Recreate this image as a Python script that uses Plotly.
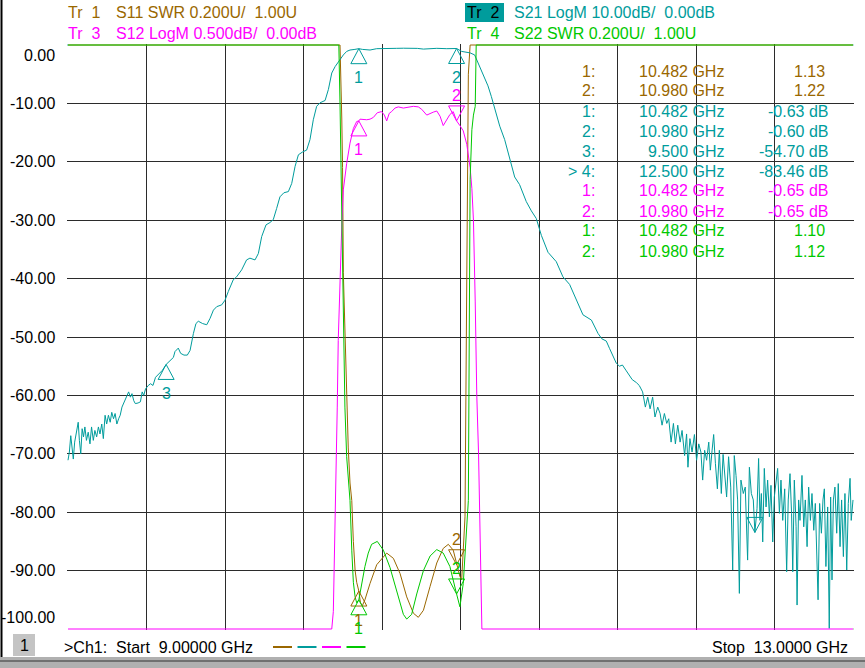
import numpy as np
import plotly.graph_objects as go

# ---- trace data ----
# Tr 2: S21 LogM (dB)
s21_freq = [
    9.000, 9.007, 9.014, 9.021, 9.027, 9.034, 9.043, 9.052, 9.058, 9.065, 9.072, 9.079,
    9.086, 9.094, 9.103, 9.112, 9.120, 9.129, 9.137, 9.146, 9.155, 9.163, 9.172, 9.180,
    9.189, 9.197, 9.206, 9.215, 9.223, 9.232, 9.240, 9.249, 9.258, 9.266, 9.275, 9.283,
    9.292, 9.300, 9.309, 9.318, 9.326, 9.335, 9.343, 9.357, 9.369, 9.378, 9.386, 9.395,
    9.409, 9.421, 9.433, 9.446, 9.464, 9.481, 9.500, 9.520, 9.537, 9.545, 9.562, 9.574,
    9.591, 9.608, 9.622, 9.639, 9.652, 9.664, 9.686, 9.707, 9.724, 9.741, 9.758, 9.783,
    9.800, 9.817, 9.842, 9.859, 9.885, 9.910, 9.927, 9.953, 9.970, 9.987, 10.009, 10.029,
    10.046, 10.063, 10.080, 10.100, 10.123, 10.140, 10.157, 10.174, 10.196, 10.216, 10.233,
    10.250, 10.267, 10.284, 10.310, 10.327, 10.344, 10.361, 10.386, 10.403, 10.420, 10.437,
    10.462, 10.482, 10.500, 10.539, 10.573, 10.607, 10.640, 10.675, 10.710, 10.743, 10.780,
    10.811, 10.845, 10.879, 10.930, 10.980, 11.006, 11.030, 11.049, 11.072, 11.089, 11.106,
    11.123, 11.140, 11.157, 11.180, 11.200, 11.225, 11.251, 11.276, 11.301, 11.335, 11.361,
    11.386, 11.412, 11.446, 11.488, 11.522, 11.556, 11.590, 11.624, 11.667, 11.701, 11.720,
    11.743, 11.760, 11.775, 11.794, 11.810, 11.825, 11.845, 11.860, 11.875, 11.896,
    11.911, 11.928, 11.942, 11.954, 11.966, 11.979, 11.991, 12.005, 12.017, 12.027, 12.039,
    12.051, 12.061, 12.073, 12.085, 12.095, 12.107, 12.119, 12.129, 12.142, 12.152, 12.159,
    12.169, 12.180, 12.192, 12.203, 12.214, 12.225, 12.234, 12.244, 12.254, 12.265, 12.273,
    12.282, 12.290, 12.299, 12.309, 12.319, 12.329, 12.338, 12.346, 12.356, 12.366, 12.377,
    12.387, 12.395, 12.404, 12.412, 12.421, 12.429, 12.441, 12.451, 12.463, 12.472, 12.482,
    12.492, 12.500, 12.511, 12.519, 12.526, 12.533, 12.540, 12.548, 12.557, 12.565, 12.574,
    12.582, 12.591, 12.599, 12.608, 12.616, 12.625, 12.633, 12.642, 12.652, 12.662, 12.670,
    12.679, 12.687, 12.693, 12.701, 12.710, 12.715, 12.723, 12.730, 12.740, 12.749, 12.757,
    12.766, 12.774, 12.783, 12.791, 12.800, 12.808, 12.817, 12.822, 12.830, 12.839, 12.847,
    12.854, 12.862, 12.871, 12.879, 12.886, 12.893, 12.900, 12.908, 12.917, 12.925, 12.934,
    12.942, 12.951, 12.959, 12.968, 12.976, 12.985, 12.991, 13.000,
]
s21_db = [
    -71.1, -69.7, -66.9, -69.4, -70.9, -68.0, -66.0, -64.6, -67.7, -70.0, -65.7, -67.1,
    -65.4, -67.7, -66.3, -68.3, -65.4, -67.7, -66.0, -67.1, -65.4, -66.6, -64.9, -67.4,
    -63.4, -64.9, -63.4, -64.6, -62.9, -64.0, -63.1, -64.9, -64.0, -63.4, -62.0, -61.4,
    -60.6, -60.0, -59.4, -60.3, -59.7, -60.9, -61.4, -61.3, -61.1, -59.4, -60.0, -58.9,
    -58.3, -58.0, -58.3, -56.9, -56.3, -55.7, -54.7, -54.1, -53.5, -52.5, -51.9, -52.8,
    -53.1, -53.1, -52.3, -49.4, -47.7, -47.3, -47.7, -47.9, -46.8, -45.4, -44.8, -44.5,
    -43.7, -42.2, -40.2, -39.7, -38.5, -36.8, -36.5, -36.8, -35.7, -32.8, -30.8, -30.4,
    -29.9, -28.0, -26.0, -25.3, -25.1, -23.7, -20.8, -18.8, -18.3, -18.0, -16.2,
    -12.8, -10.5, -9.9, -9.5, -7.6, -4.8, -3.7, -2.5, -1.7, -1.1, -0.86,
    -0.75, -0.63, -0.75, -0.86, -0.63, -0.57, -0.62, -0.57, -0.55, -0.52, -0.58,
    -0.70, -0.60, -0.57, -0.63, -0.60, -1.1, -1.2, -1.35, -1.7, -3.0, -4.3,
    -5.5, -7.0, -8.8, -11.5, -13.9, -16.2, -19.7, -22.6, -23.9, -26.8, -28.4,
    -29.7, -32.6, -35.5, -37.1, -39.7, -41.0, -43.6, -46.2, -47.1, -49.4, -50.3,
    -50.7, -52.0, -53.2, -54.5, -55.0, -54.8, -55.8, -56.5, -57.3, -57.8,
    -58.3, -59.4, -62.0, -60.3, -62.3, -60.3, -63.7, -62.0, -63.1, -65.1, -63.1,
    -64.8, -64.0, -68.0, -64.8, -68.3, -65.1, -68.0, -66.0, -70.3, -66.6, -72.3,
    -67.4, -69.7, -66.7, -71.1, -68.3, -69.7, -74.5, -69.4, -71.1, -68.0, -72.8,
    -69.4, -66.7, -71.7, -76.0, -69.4, -76.8, -70.1, -74.0, -77.4, -70.5, -75.7,
    -89.9, -70.3, -73.7, -77.9, -93.9, -74.5, -76.8, -75.7, -88.2, -72.3, -76.8,
    -77.9, -83.46, -79.4, -70.8, -81.4, -76.8, -85.1, -72.5, -79.1, -74.5, -80.8,
    -75.4, -85.1, -77.4, -74.2, -72.5, -80.2, -74.5, -81.4, -76.0, -90.2, -77.9,
    -73.4, -80.2, -90.2, -74.5, -82.5, -95.9, -77.9, -81.4, -73.7, -82.5, -77.9,
    -85.9, -75.7, -81.4, -76.8, -83.1, -78.5, -88.8, -95.0, -78.5, -83.6, -77.9,
    -76.0, -89.3, -79.1, -99.9, -77.4, -91.6, -77.9, -75.7, -83.6, -75.1, -85.9,
    -77.9, -87.6, -76.8, -89.9, -78.5, -74.2, -81.4, -77.9,
]

# Tr 3: S12 LogM (dB), flat -5.00 dB where it sits on the bottom of the screen
s12_freq = [
    9.000, 10.344, 10.352, 10.360, 10.366, 10.372, 10.377, 10.386, 10.395, 10.403, 10.411,
    10.420, 10.437, 10.454, 10.471, 10.482, 10.488, 10.522, 10.539, 10.556, 10.576, 10.598,
    10.612, 10.624, 10.637, 10.649, 10.666, 10.683, 10.709, 10.734, 10.760, 10.785, 10.802,
    10.828, 10.845, 10.861, 10.879, 10.896, 10.912, 10.930, 10.946, 10.963, 10.980, 10.997,
    11.014, 11.032, 11.049, 11.058, 11.066, 11.075, 11.083, 11.092, 11.100, 11.109, 13.000,
]
s12_db = [
    -5.00, -5.00, -4.85, -4.25, -3.64, -3.10, -2.53, -1.95, -1.55, -1.24, -1.125,
    -1.015, -0.84, -0.715, -0.655, -0.65, -0.635, -0.64, -0.635, -0.62, -0.58, -0.57,
    -0.60, -0.65, -0.585, -0.57, -0.54, -0.53, -0.54, -0.53, -0.525, -0.53, -0.55,
    -0.60, -0.585, -0.575, -0.565, -0.61, -0.69, -0.64, -0.595, -0.57, -0.65, -0.69,
    -0.735, -0.85, -1.05, -1.23, -1.50, -2.20, -3.00, -3.50, -4.15, -5.00, -5.00,
]

# Tr 1: S11 SWR, 3.00 where it sits on the top of the screen
s11_freq = [
    9.000, 10.386, 10.395, 10.399, 10.403, 10.411, 10.420, 10.428, 10.437, 10.446, 10.454,
    10.463, 10.471, 10.482, 10.490, 10.500, 10.513, 10.539, 10.573, 10.624, 10.658, 10.692,
    10.726, 10.760, 10.785, 10.811, 10.845, 10.879, 10.912, 10.938, 10.963, 10.980, 10.997,
    11.006, 11.014, 11.023, 11.032, 11.040, 11.049, 13.000,
]
s11_swr = [
    3.00, 3.00, 2.75, 2.58, 2.22, 2.00, 1.76, 1.62, 1.50, 1.44, 1.30,
    1.20, 1.16, 1.13, 1.09, 1.08, 1.10, 1.156, 1.22, 1.26, 1.242, 1.19,
    1.11, 1.054, 1.04, 1.064, 1.146, 1.226, 1.276, 1.29, 1.27, 1.22, 1.18,
    1.168, 1.27, 1.384, 2.20, 2.90, 3.00, 3.00,
]

# Tr 4: S22 SWR
s22_freq = [
    9.000, 10.380, 10.386, 10.395, 10.403, 10.411, 10.420, 10.428, 10.437, 10.446, 10.454,
    10.463, 10.471, 10.482, 10.497, 10.513, 10.530, 10.547, 10.576, 10.607, 10.641, 10.675,
    10.709, 10.726, 10.751, 10.777, 10.811, 10.845, 10.879, 10.912, 10.946, 10.980, 10.997,
    11.014, 11.023, 11.032, 11.040, 11.049, 11.058, 11.066, 11.075, 11.080, 13.000,
]
s22_swr = [
    3.00, 3.00, 2.80, 2.38, 2.00, 1.76, 1.59, 1.50, 1.44, 1.27, 1.16,
    1.11, 1.09, 1.10, 1.156, 1.214, 1.26, 1.29, 1.30, 1.27, 1.21, 1.13,
    1.05, 1.034, 1.05, 1.12, 1.20, 1.25, 1.272, 1.26, 1.214, 1.12, 1.076,
    1.156, 1.27, 1.38, 1.44, 2.54, 2.71, 2.76, 2.79, 3.00, 3.00,
]

# marker readouts
s11_mk_freq = [10.482, 10.980]
s11_mk_val = [1.13, 1.22]
s21_mk_freq = [10.482, 10.980, 9.500, 12.500]
s21_mk_val = [-0.63, -0.60, -54.70, -83.46]
s12_mk_freq = [10.482, 10.980]
s12_mk_val = [-0.65, -0.65]
s22_mk_freq = [10.482, 10.980]
s22_mk_val = [1.10, 1.12]

y_tick_vals = [0, -10, -20, -30, -40, -50, -60, -70, -80, -90, -100]
y_tick_labels = ["0.00", "-10.00", "-20.00", "-30.00", "-40.00", "-50.00",
                 "-60.00", "-70.00", "-80.00", "-90.00", "-100.00"]
start_ghz, stop_ghz = 9.0, 13.0

BROWN, TEAL, MAGENTA, GREEN = "#9a6700", "#009c9c", "#ff00ff", "#00c800"
FONT = "Liberation Sans, Arial, sans-serif"


def logm_screen(db, per_div, ref=0.0):
    # reference at the top line, 10 divisions downwards
    return np.clip((np.asarray(db) - ref) / per_div * 10, -100, 0)


def swr_screen(v, per_div=0.2, ref=1.0):
    # reference at the bottom line
    return np.clip(-100 + (np.asarray(v) - ref) / per_div * 10, -100, 0)


# plot area in page pixels (one extra pixel each side so edge traces show)
PL, PR, PT, PB = 67, 854, 44, 630


def fx(x):
    return (x - PL) / (PR - PL)


def fy(y):
    return (PB - y) / (PB - PT)


fig = go.Figure()
for f, v, c in [(s11_freq, swr_screen(s11_swr), BROWN),
                (s21_freq, logm_screen(s21_db, 10.0), TEAL),
                (s12_freq, logm_screen(s12_db, 0.5), MAGENTA),
                (s22_freq, swr_screen(s22_swr), GREEN)]:
    fig.add_trace(go.Scatter(x=f, y=v, mode="lines", line=dict(color=c, width=1),
                             hoverinfo="skip", showlegend=False))

shapes = []
ann = []


def text(x, y, s, color="black", anchor="left"):
    ann.append(dict(x=fx(x), y=fy(y), xref="paper", yref="paper", text=s, showarrow=False,
                    xanchor=anchor, yanchor="middle", font=dict(color=color, size=16, family=FONT)))


# marker triangles and numbers
UP = "M0,0 L-8,-15 L8,-15 Z"
DOWN = "M0,0 L-8,15 L8,15 Z"
marker_sets = [
    (s11_mk_freq, swr_screen(s11_mk_val), BROWN, ["up", "down"], [True, True]),
    (s21_mk_freq, logm_screen(s21_mk_val, 10.0), TEAL, ["up", "up", "up", "down"], [True, True, True, False]),
    (s12_mk_freq, logm_screen(s12_mk_val, 0.5), MAGENTA, ["up", "down"], [True, True]),
    (s22_mk_freq, swr_screen(s22_mk_val), GREEN, ["up", "down"], [True, True]),
]
for freqs, vals, col, dirs, labelled in marker_sets:
    for i, (f, v) in enumerate(zip(freqs, vals)):
        shapes.append(dict(type="path", xref="x", yref="y", xsizemode="pixel", ysizemode="pixel",
                           xanchor=f, yanchor=v, path=UP if dirs[i] == "up" else DOWN,
                           line=dict(color=col, width=1)))
        if labelled[i]:
            ann.append(dict(x=f, y=v, xref="x", yref="y", text=str(i + 1), showarrow=False,
                            yshift=-29 if dirs[i] == "up" else 25,
                            font=dict(color=col, size=16, family=FONT)))

# reference position arrows
shapes += [
    dict(type="path", xref="x", yref="y", xsizemode="pixel", ysizemode="pixel", xanchor=start_ghz,
         yanchor=0, path="M0,0 L-7,5 L-7,-5 Z", fillcolor=TEAL, line=dict(width=0)),
    dict(type="path", xref="x", yref="y", xsizemode="pixel", ysizemode="pixel", xanchor=stop_ghz,
         yanchor=0, path="M0,0 L9,5 L9,-5 Z", fillcolor=TEAL, line=dict(width=0)),
    dict(type="path", xref="x", yref="y", xsizemode="pixel", ysizemode="pixel", xanchor=stop_ghz,
         yanchor=-100, path="M0,0 L9,5 L9,-5 Z", fillcolor=GREEN, line=dict(width=0)),
]

# y scale labels (end labels pulled inside)
for v, lab in zip(y_tick_vals, y_tick_labels):
    shift = -10 if v == 0 else (12 if v == -100 else 0)
    ann.append(dict(x=fx(57), y=v, xref="paper", yref="y", text=lab, showarrow=False,
                    xanchor="right", yanchor="middle", yshift=shift,
                    font=dict(color="black", size=16, family=FONT)))

# trace header lines
shapes.append(dict(type="rect", xref="paper", yref="paper", x0=fx(465), x1=fx(504),
                   y0=fy(22), y1=fy(3), fillcolor=TEAL, line=dict(width=0)))
text(66, 12, "Tr\u00a0\u00a01", BROWN)
text(114, 12, "S11 SWR 0.200U/\u00a0\u00a01.00U", BROWN)
text(66, 33, "Tr\u00a0\u00a03", MAGENTA)
text(114, 33, "S12 LogM 0.500dB/\u00a0\u00a00.00dB", MAGENTA)
text(465, 12, "Tr\u00a0\u00a02", "black")
text(512, 12, "S21 LogM 10.00dB/\u00a0\u00a00.00dB", TEAL)
text(465, 33, "Tr\u00a0\u00a04", GREEN)
text(512, 33, "S22 SWR 0.200U/\u00a0\u00a01.00U", GREEN)

# marker table
rows = []
for i, (f, v) in enumerate(zip(s11_mk_freq, s11_mk_val)):
    rows.append((f"{i + 1}:", f, f"{v:.2f}", BROWN))
for i, (f, v) in enumerate(zip(s21_mk_freq, s21_mk_val)):
    rows.append(((">\u00a0" if i == 3 else "") + f"{i + 1}:", f, f"{v:.2f} dB", TEAL))
for i, (f, v) in enumerate(zip(s12_mk_freq, s12_mk_val)):
    rows.append((f"{i + 1}:", f, f"{v:.2f} dB", MAGENTA))
for i, (f, v) in enumerate(zip(s22_mk_freq, s22_mk_val)):
    rows.append((f"{i + 1}:", f, f"{v:.2f}", GREEN))
for r, (lab, f, val, col) in enumerate(rows):
    y = 71 + 20 * r
    text(597, y, lab, col, "right")
    text(726, y, f"{f:.3f} GHz", col, "right")
    text(830 if "dB" in val else 827, y, val, col, "right")

# footer
shapes.append(dict(type="rect", xref="paper", yref="paper", x0=fx(13), x1=fx(35),
                   y0=fy(656), y1=fy(634), fillcolor="#c4c4c4", line=dict(width=0)))
text(24, 645, "1", "black", "center")
text(62, 647, f">Ch1:\u00a0\u00a0Start\u00a0\u00a0{start_ghz:.5f} GHz", "black")
for i, col in enumerate([BROWN, TEAL, MAGENTA, GREEN]):
    x0 = 273 + i * 24.5
    shapes.append(dict(type="line", xref="paper", yref="paper", x0=fx(x0), x1=fx(x0 + 19),
                       y0=fy(647), y1=fy(647), line=dict(color=col, width=2)))
text(850, 647, f"Stop\u00a0\u00a0{stop_ghz:.4f} GHz", "black", "right")

# window frame bits
shapes.append(dict(type="line", xref="paper", yref="paper", x0=fx(1.5), x1=fx(1.5),
                   y0=fy(0), y1=fy(657), line=dict(color="black", width=2)))
shapes.append(dict(type="rect", xref="paper", yref="paper", x0=fx(0), x1=fx(865),
                   y0=fy(668), y1=fy(657), fillcolor="#b0b0b0", line=dict(width=0)))
shapes.append(dict(type="line", xref="paper", yref="paper", x0=fx(0), x1=fx(865),
                   y0=fy(661), y1=fy(661), line=dict(color="#707070", width=2)))

px_x = (stop_ghz - start_ghz) / 785
px_y = 100 / 584
fig.update_layout(
    width=865, height=668, autosize=False,
    margin=dict(l=PL, r=865 - PR, t=PT, b=668 - PB, pad=0),
    paper_bgcolor="white", plot_bgcolor="white",
    font=dict(family=FONT, size=16, color="black"),
    xaxis=dict(range=[start_ghz - px_x, stop_ghz + px_x], tick0=start_ghz, dtick=0.4,
               showgrid=True, gridcolor="#2b2b2b", gridwidth=1.3, zeroline=False,
               showticklabels=False, ticks="", showline=False, layer="below traces"),
    yaxis=dict(range=[-100 - px_y, px_y], tick0=0, dtick=10,
               showgrid=True, gridcolor="#2b2b2b", gridwidth=1.3, zeroline=False,
               showticklabels=False, ticks="", showline=False, layer="below traces"),
    shapes=shapes, annotations=ann, showlegend=False,
)

fig.write_html("out.html", config={"displayModeBar": False},
               post_script="document.body.style.margin='0';")
